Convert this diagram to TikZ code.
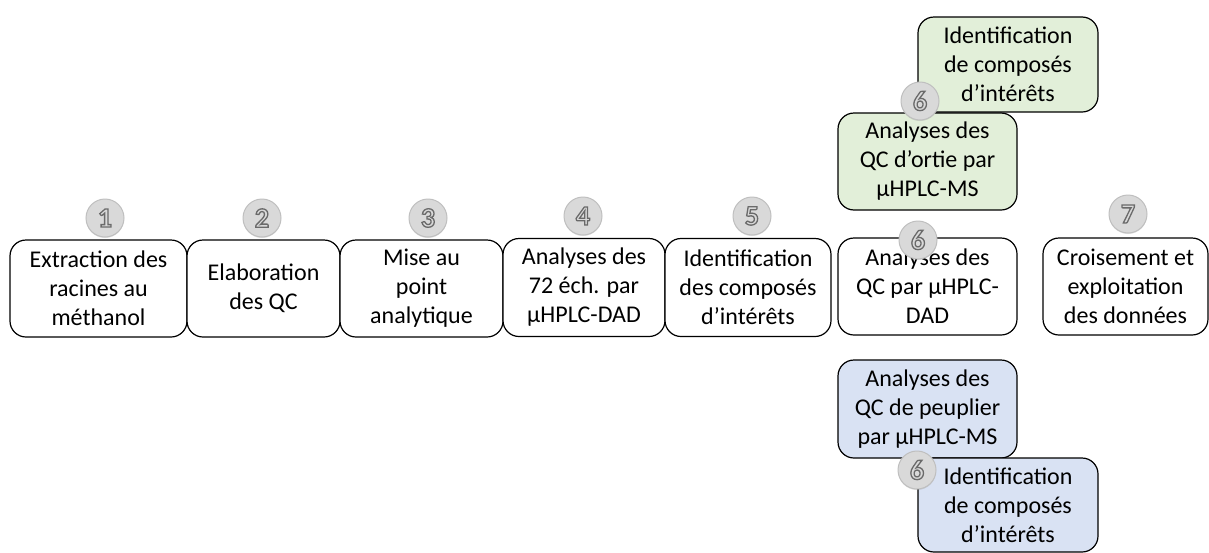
\documentclass[tikz,border=0pt]{standalone}
\usepackage{fontspec}
\setmainfont{Carlito}
\usetikzlibrary{shadows}
\definecolor{greenfill}{HTML}{E2EFD9}
\definecolor{bluefill}{HTML}{D9E2F3}
\definecolor{circfill}{HTML}{D9D9D9}
\definecolor{circline}{HTML}{BFBFBF}
\definecolor{numcol}{HTML}{6A6A6A}
\newcommand{\outl}[1]{\special{pdf:literal direct 1 Tr 1.3 w}#1\special{pdf:literal direct 0 Tr 1 w}}
\tikzset{
  stepbox/.style={draw=black, line width=1.2pt, rounded corners=16pt, fill=white,
    align=center, inner sep=0pt, font=\fontsize{24}{29}\selectfont, text=black},
  numcirc/.style={circle, draw=circline, line width=1pt, fill=circfill, minimum size=38pt,
    inner sep=0pt, font=\fontsize{28}{28}\selectfont\bfseries, text=numcol,
    drop shadow={shadow xshift=0pt, shadow yshift=-1pt, opacity=0.25}}
}
\begin{document}
\begin{tikzpicture}[x=1pt,y=-1pt]
\useasboundingbox (0,0) rectangle (1209,552);
% main row boxes
\node[stepbox, minimum width=177pt, minimum height=97pt] (b1) at (98.5,288.5) {Extraction des\\racines au\\méthanol};
\node[stepbox, minimum width=153pt, minimum height=97pt] (b2) at (263.5,288.5) {Elaboration\\des QC};
\node[stepbox, minimum width=163pt, minimum height=97pt] (b3) at (421.5,288.5) {Mise au\\point\\analytique};
\node[stepbox, minimum width=162pt, minimum height=98pt] (b4) at (584,287.5) {Analyses des\\72 éch. par\\µHPLC-DAD};
\node[stepbox, minimum width=166pt, minimum height=98pt] (b5) at (748,287.5) {Identification\\des composés\\d’intérêts};
\node[stepbox, minimum width=179pt, minimum height=97pt] (b6) at (927.5,286.5) {Analyses des\\QC par µHPLC-\\DAD};
\node[stepbox, minimum width=165pt, minimum height=97pt] (b7) at (1125.5,286.5) {Croisement et\\exploitation\\des données};
% green branch
\node[stepbox, fill=greenfill, minimum width=180pt, minimum height=95pt] (g2) at (1008,64.5) {Identification\\de composés\\d’intérêts};
\node[stepbox, fill=greenfill, minimum width=179pt, minimum height=97pt] (g1) at (927.5,161.5) {Analyses des\\QC d’ortie par\\µHPLC-MS};
% blue branch
\node[stepbox, fill=bluefill, minimum width=179pt, minimum height=98pt] (u1) at (927.5,409) {Analyses des\\QC de peuplier\\par µHPLC-MS};
\node[stepbox, fill=bluefill, minimum width=180pt, minimum height=94pt] (u2) at (1008,505) {Identification\\de composés\\d’intérêts};
% number circles
\node[numcirc] (n1) at (105,218) {\outl{1}};
\node[numcirc] (n2) at (262,218) {\outl{2}};
\node[numcirc] (n3) at (428,218) {\outl{3}};
\node[numcirc] (n4) at (583,216) {\outl{4}};
\node[numcirc] (n5) at (752,216) {\outl{5}};
\node[numcirc] (n6) at (918,240) {\outl{6}};
\node[numcirc] (n7) at (1128,214) {\outl{7}};
\node[numcirc] (n6g) at (920,101) {\outl{6}};
\node[numcirc] (n6b) at (917,470) {\outl{6}};
\end{tikzpicture}
\end{document}
